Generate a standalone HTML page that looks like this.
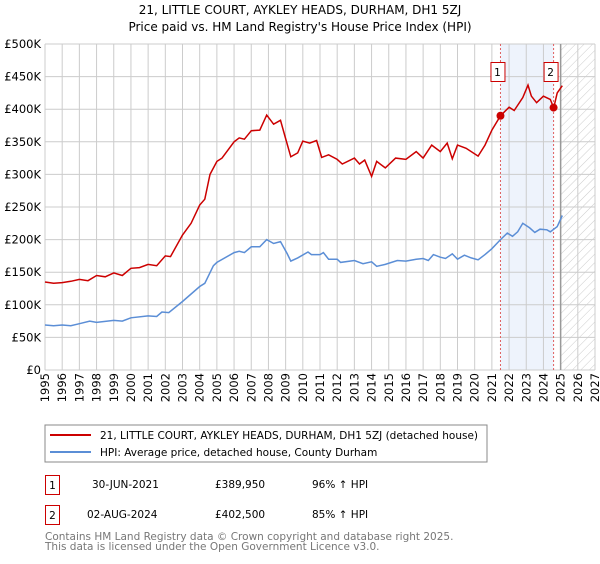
<!DOCTYPE html>
<html><head><meta charset="utf-8"><style>
body{margin:0;background:#fff;width:600px;height:560px;overflow:hidden;font-family:"DejaVu Sans","Liberation Sans",sans-serif}
svg text{font-family:"DejaVu Sans","Liberation Sans",sans-serif}
</style></head><body>
<svg id="c" width="600" height="560" xmlns="http://www.w3.org/2000/svg">
<defs><pattern id="hatch" width="6" height="6" patternUnits="userSpaceOnUse" patternTransform="rotate(45)"><line x1="0" y1="0" x2="0" y2="6" stroke="#ccc" stroke-width="1"/></pattern></defs>
<text x="300" y="14" text-anchor="middle" font-size="12" fill="#000">21, LITTLE COURT, AYKLEY HEADS, DURHAM, DH1 5ZJ</text>
<text x="300" y="31" text-anchor="middle" font-size="12" fill="#000">Price paid vs. HM Land Registry's House Price Index (HPI)</text>
<g id="grid"></g><g id="marks"></g><g id="axes"></g>
<rect x="45" y="425" width="442" height="37" fill="#fff" stroke="#888"/>
<line x1="50" y1="435" x2="91" y2="435" stroke="#cc0000" stroke-width="2"/>
<text x="100" y="439" font-size="10.5">21, LITTLE COURT, AYKLEY HEADS, DURHAM, DH1 5ZJ (detached house)</text>
<line x1="50" y1="452" x2="91" y2="452" stroke="#5b8ed6" stroke-width="2"/>
<text x="100" y="456" font-size="10.5">HPI: Average price, detached house, County Durham</text>
<g>
<rect x="45.5" y="475.5" width="14" height="19" fill="#fff" stroke="#cc0000"/><text x="52.5" y="489" text-anchor="middle" font-size="10.5">1</text>
<text x="92" y="488" font-size="10.5">30-JUN-2021</text><text x="215" y="488" font-size="10.5">£389,950</text><text x="312" y="488" font-size="10.5">96% ↑ HPI</text></g>
<g>
<rect x="45.5" y="505.5" width="14" height="19" fill="#fff" stroke="#cc0000"/><text x="52.5" y="519" text-anchor="middle" font-size="10.5">2</text>
<text x="87" y="518" font-size="10.5">02-AUG-2024</text><text x="215" y="518" font-size="10.5">£402,500</text><text x="312" y="518" font-size="10.5">85% ↑ HPI</text></g>
<text x="45" y="540" font-size="10.5" fill="#777">Contains HM Land Registry data © Crown copyright and database right 2025.</text>
<text x="45" y="550" font-size="10.5" fill="#777">This data is licensed under the Open Government Licence v3.0.</text>
</svg>
<script>
const hpiYears=[1995,1995.5,1996,1996.5,1997,1997.6,1998,1999,1999.5,2000,2001,2001.5,2001.8,2002.2,2003,2004,2004.3,2004.8,2005,2006,2006.3,2006.6,2007,2007.5,2007.9,2008.3,2008.7,2009.1,2009.3,2009.7,2010.3,2010.5,2011,2011.2,2011.5,2012,2012.2,2013,2013.5,2014,2014.3,2014.8,2015.5,2016,2016.6,2017,2017.3,2017.6,2018,2018.3,2018.7,2019,2019.4,2019.8,2020.2,2020.6,2021,2021.5,2021.9,2022.2,2022.5,2022.8,2023.2,2023.5,2023.8,2024.2,2024.4,2024.8,2025.1];
const hpiValues=[69,68,69,68,71,75,73,76,75,80,83,82,89,88,105,128,133,160,165,180,182,180,189,189,200,194,197,178,167,172,181,177,177,180,170,170,165,168,163,166,159,162,168,167,170,171,168,177,173,171,178,170,176,172,169,177,186,200,210,205,212,225,218,211,216,215,212,220,237];
const redYears=[1995,1995.5,1996,1996.5,1997,1997.5,1998,1998.5,1999,1999.5,2000,2000.5,2001,2001.5,2002,2002.3,2003,2003.5,2004,2004.3,2004.6,2005,2005.3,2006,2006.3,2006.6,2007,2007.5,2007.9,2008.3,2008.7,2009.0,2009.3,2009.7,2010,2010.4,2010.8,2011.1,2011.5,2012,2012.3,2013,2013.3,2013.6,2014,2014.3,2014.8,2015.4,2016,2016.6,2017,2017.5,2018,2018.4,2018.7,2019,2019.5,2020.2,2020.6,2021,2021.5,2022,2022.3,2022.8,2023.1,2023.3,2023.6,2024.0,2024.4,2024.6,2024.8,2025.1];
const redValues=[135,133,134,136,139,137,145,143,149,145,156,157,162,160,175,174,207,225,253,262,300,320,325,350,356,354,367,368,391,377,383,355,327,333,351,348,352,326,330,323,316,325,316,322,297,320,310,325,323,335,325,345,335,348,324,345,340,328,345,368,390,403,398,418,437,420,410,420,415,402,425,436];
const saleYears=[2021.5,2024.59];
const saleValues=[389.95,402.5];
const saleLabels=["1","2"];
const yTicks=[0,50,100,150,200,250,300,350,400,450,500];
const yTickLabels=["£0","£50K","£100K","£150K","£200K","£250K","£300K","£350K","£400K","£450K","£500K"];
const xTicks=[1995,1996,1997,1998,1999,2000,2001,2002,2003,2004,2005,2006,2007,2008,2009,2010,2011,2012,2013,2014,2015,2016,2017,2018,2019,2020,2021,2022,2023,2024,2025,2026,2027];
const X0=45,X1=595,Y0=370,Y1=44;
const xs=v=>X0+(v-1995)/(2027-1995)*(X1-X0);
const ys=v=>Y0-v/500*(Y0-Y1);
const NS="http://www.w3.org/2000/svg";
function mk(tag,attrs,parent){const e=document.createElementNS(NS,tag);for(const k in attrs)e.setAttribute(k,attrs[k]);parent.appendChild(e);return e;}
const grid=document.getElementById('grid'),marks=document.getElementById('marks'),axes=document.getElementById('axes');
let r=mk('rect',{x:xs(saleYears[0]),y:Y1,width:xs(saleYears[1])-xs(saleYears[0]),height:Y0-Y1,fill:'#eef3fc'},grid);


r=mk('rect',{x:xs(2025),y:Y1,width:X1-xs(2025),height:Y0-Y1,fill:'url(#hatch)'},grid);


xTicks.forEach(t=>{const l=mk('line',{x1:xs(t),x2:xs(t),y1:Y1,y2:Y0,stroke:'#ccc'},grid);


const tx=mk('text',{x:0,y:0,'font-size':11.5,'text-anchor':'end',transform:`translate(${xs(t)+4},${Y0+3}) rotate(-90)`},axes);tx.textContent=t;

});
yTicks.forEach((t,i)=>{const l=mk('line',{x1:X0,x2:X1,y1:ys(t),y2:ys(t),stroke:'#ccc'},grid);


const tx=mk('text',{x:X0-4,y:ys(t)+4,'font-size':11.5,'text-anchor':'end'},axes);tx.textContent=yTickLabels[i];

});
let ln=mk('line',{x1:xs(2025),x2:xs(2025),y1:Y1,y2:Y0,stroke:'#999','stroke-width':1.5},grid);


saleYears.forEach((s,i)=>{const l=mk('line',{x1:xs(s),x2:xs(s),y1:Y1,y2:Y0,stroke:'#e06060','stroke-dasharray':'2,2'},marks);

});
const path=(xa,va)=>xa.map((x,i)=>(i?'L':'M')+xs(x).toFixed(1)+','+ys(va[i]).toFixed(1)).join('');
let p=mk('path',{d:path(hpiYears,hpiValues),fill:'none',stroke:'#5b8ed6','stroke-width':1.5},marks);


p=mk('path',{d:path(redYears,redValues),fill:'none',stroke:'#cc0000','stroke-width':1.5},marks);


saleYears.forEach((s,i)=>{const c=mk('circle',{cx:xs(s),cy:ys(saleValues[i]),r:4,fill:'#cc0000'},marks);


const g=mk('g',{},marks);


mk('rect',{x:xs(s)-10+0.5,y:62.5,width:14,height:19,fill:'#fff',stroke:'#cc0000'},g);
const t=mk('text',{x:xs(s)-3,y:76,'font-size':10.5,'text-anchor':'middle'},g);t.textContent=saleLabels[i];});
</script>
</body></html>
